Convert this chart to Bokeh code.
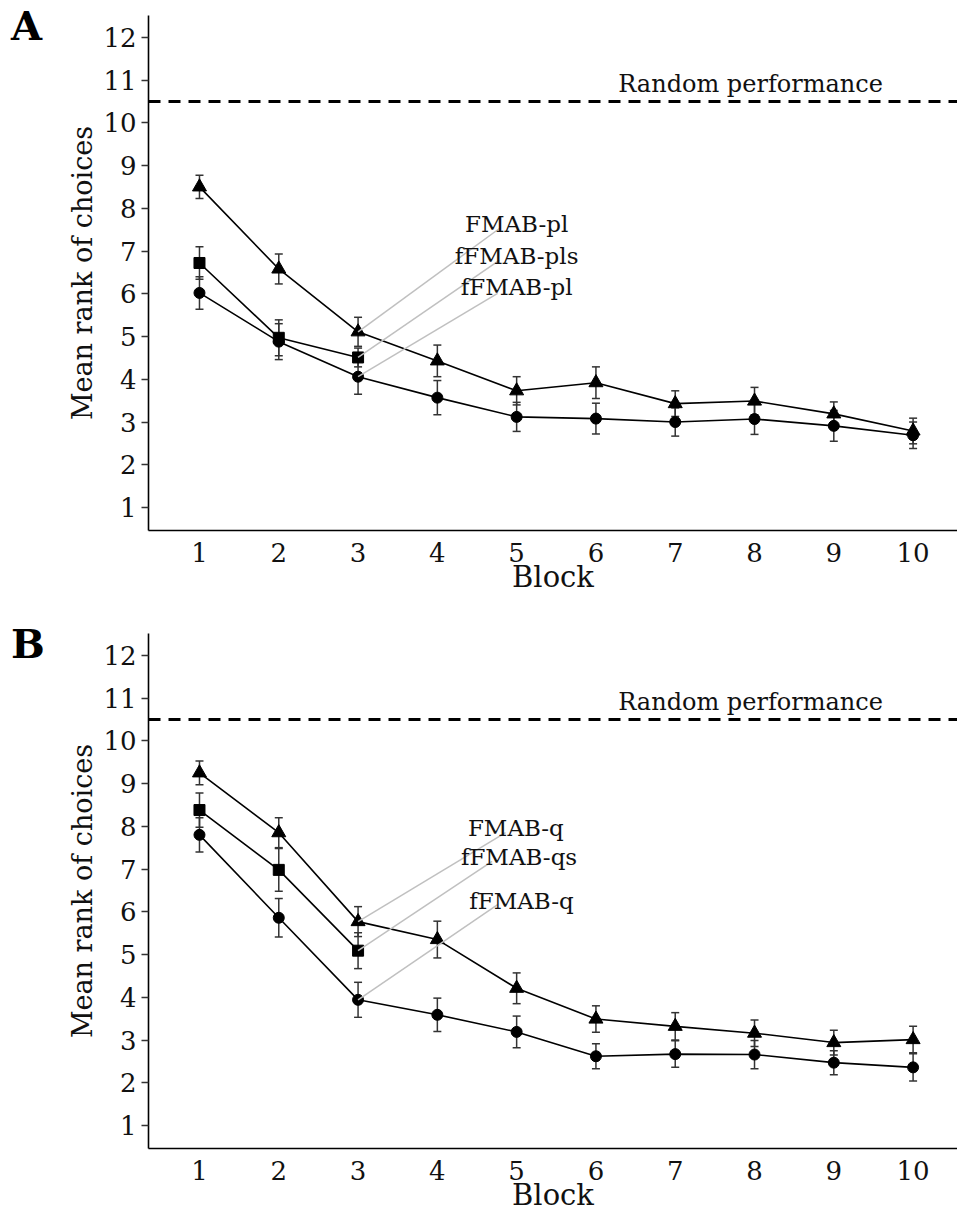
from bokeh.plotting import figure
from bokeh.models import Range1d, FixedTicker, Span, Whisker, TeeHead, ColumnDataSource, Div
from bokeh.layouts import column, row
from bokeh.core.properties import value
from bokeh.embed import file_html
from bokeh.resources import INLINE

FONT = "DejaVu Serif"

blocks = [1, 2, 3, 4, 5, 6, 7, 8, 9, 10]
blocks_s = [1, 2, 3]
x_ticks = [1, 2, 3, 4, 5, 6, 7, 8, 9, 10]
y_ticks = [1, 2, 3, 4, 5, 6, 7, 8, 9, 10, 11, 12]
random_level = 10.5

# Panel A
a_fmab_pl = [8.50, 6.58, 5.11, 4.43, 3.73, 3.92, 3.43, 3.49, 3.19, 2.79]
a_fmab_pl_err = [0.27, 0.35, 0.34, 0.37, 0.33, 0.37, 0.30, 0.32, 0.28, 0.30]
a_ffmab_pl = [6.02, 4.88, 4.06, 3.57, 3.12, 3.08, 3.00, 3.07, 2.91, 2.69]
a_ffmab_pl_err = [0.38, 0.42, 0.41, 0.40, 0.34, 0.36, 0.33, 0.36, 0.36, 0.31]
a_ffmab_pls = [6.72, 4.97, 4.51]
a_ffmab_pls_err = [0.38, 0.42, 0.22]
a_names = ["FMAB-pl", "fFMAB-pls", "fFMAB-pl"]

# Panel B
b_fmab_q = [9.25, 7.85, 5.77, 5.35, 4.21, 3.49, 3.32, 3.16, 2.94, 3.01]
b_fmab_q_err = [0.28, 0.35, 0.35, 0.43, 0.36, 0.31, 0.32, 0.31, 0.29, 0.31]
b_ffmab_q = [7.80, 5.86, 3.94, 3.59, 3.19, 2.62, 2.67, 2.66, 2.47, 2.36]
b_ffmab_q_err = [0.40, 0.45, 0.41, 0.39, 0.37, 0.29, 0.31, 0.33, 0.28, 0.32]
b_ffmab_qs = [8.38, 6.98, 5.09]
b_ffmab_qs_err = [0.40, 0.50, 0.42]
b_names = ["FMAB-q", "fFMAB-qs", "fFMAB-q"]

LEFT_W = 60


def make_panel(tri, tri_err, circ, circ_err, sq, sq_err, names,
               label_xy, seg_end, height, bottom):
    p = figure(width=957 - LEFT_W, height=height, output_backend="svg", toolbar_location=None,
               x_range=Range1d(0.357, 10.56), y_range=Range1d(0.462, 12.51),
               min_border_left=148 - LEFT_W, min_border_right=0, min_border_top=15,
               min_border_bottom=bottom)
    p.outline_line_color = None
    p.xgrid.visible = False
    p.ygrid.visible = False
    p.background_fill_color = "white"
    p.border_fill_color = "white"

    xa = p.xaxis[0]
    xa.ticker = FixedTicker(ticks=x_ticks)
    xa.major_tick_line_color = None
    xa.minor_tick_line_color = None
    xa.axis_line_color = "black"
    xa.axis_line_width = 1.6
    xa.major_label_text_font = FONT
    xa.major_label_text_font_size = "26px"
    xa.major_label_text_color = "#111111"
    xa.major_label_standoff = 6
    xa.axis_label = "Block"
    xa.axis_label_text_font = FONT
    xa.axis_label_text_font_size = "29px"
    xa.axis_label_text_font_style = "normal"
    xa.axis_label_text_color = "#111111"
    xa.axis_label_standoff = -5

    ya = p.yaxis[0]
    ya.ticker = FixedTicker(ticks=y_ticks)
    ya.minor_tick_line_color = None
    ya.major_tick_in = 0
    ya.major_tick_out = 7
    ya.major_tick_line_color = "#333333"
    ya.major_tick_line_width = 1.5
    ya.axis_line_color = "black"
    ya.axis_line_width = 1.6
    ya.major_label_text_font = FONT
    ya.major_label_text_font_size = "26px"
    ya.major_label_text_color = "#111111"
    ya.major_label_standoff = 5
    ya.axis_label = "Mean rank of choices"
    ya.axis_label_text_font = FONT
    ya.axis_label_text_font_size = "27px"
    ya.axis_label_text_font_style = "normal"
    ya.axis_label_text_color = "#111111"
    ya.axis_label_standoff = 2

    p.add_layout(Span(location=random_level, dimension="width", line_color="black",
                      line_width=3, line_dash="12 8"))
    p.text(x=[7.95], y=[10.9], text=["Random performance"], text_font=value(FONT),
           text_font_size="24px", text_align="center", text_baseline="alphabetic",
           text_color="#111111")

    p.line(blocks, tri, line_color="black", line_width=1.6)
    p.line(blocks, circ, line_color="black", line_width=1.6)
    p.line(blocks_s, sq, line_color="black", line_width=1.6)

    for xs, ys, es in ((blocks, tri, tri_err), (blocks, circ, circ_err), (blocks_s, sq, sq_err)):
        src = ColumnDataSource(dict(x=xs,
                                    upper=[v + e for v, e in zip(ys, es)],
                                    lower=[v - e for v, e in zip(ys, es)]))
        w = Whisker(base="x", upper="upper", lower="lower", source=src, dimension="height",
                    line_color="#333333", line_width=1.5,
                    upper_head=TeeHead(size=8, line_color="#333333", line_width=1.5),
                    lower_head=TeeHead(size=8, line_color="#333333", line_width=1.5))
        p.add_layout(w)

    p.scatter(blocks, tri, marker="triangle", size=14, fill_color="black", line_color="black")
    p.scatter(blocks, circ, marker="circle", size=11, fill_color="black", line_color="black")
    p.scatter(blocks_s, sq, marker="square", size=11, fill_color="black", line_color="black")

    starts_y = [tri[2], sq[2], circ[2]]
    p.segment(x0=[3, 3, 3], y0=starts_y, x1=[e[0] for e in seg_end], y1=[e[1] for e in seg_end],
              line_color="#c0c0c0", line_width=1.5)
    p.text(x=[xy[0] for xy in label_xy], y=[xy[1] for xy in label_xy], text=names,
           text_font=value(FONT), text_font_size="23px", text_align="center",
           text_baseline="alphabetic", text_color="#111111")
    return p


def letter_div(letter, height):
    html = ('<div style="margin:6px 0 0 11px; font-family:\'DejaVu Serif\', serif; '
            'font-size:40px; font-weight:bold; line-height:1; color:black;">%s</div>' % letter)
    return Div(text=html, width=LEFT_W, height=height, margin=(0, 0, 0, 0))


pA = make_panel(a_fmab_pl, a_fmab_pl_err, a_ffmab_pl, a_ffmab_pl_err,
                a_ffmab_pls, a_ffmab_pls_err, a_names,
                [(5.0, 7.64), (5.0, 6.89), (5.0, 6.15)],
                [(4.80, 7.55), (4.78, 6.78), (4.76, 6.01)], 618, 88)
pB = make_panel(b_fmab_q, b_fmab_q_err, b_ffmab_q, b_ffmab_q_err,
                b_ffmab_qs, b_ffmab_qs_err, b_names,
                [(4.99, 7.95), (5.03, 7.27), (5.06, 6.26)],
                [(4.86, 7.85), (4.69, 7.18), (4.76, 6.17)], 596, 66)

layout = column(row(letter_div("A", 618), pA, spacing=0),
                row(letter_div("B", 596), pB, spacing=0), spacing=0)
open("out.html", "w").write(file_html(layout, INLINE))
